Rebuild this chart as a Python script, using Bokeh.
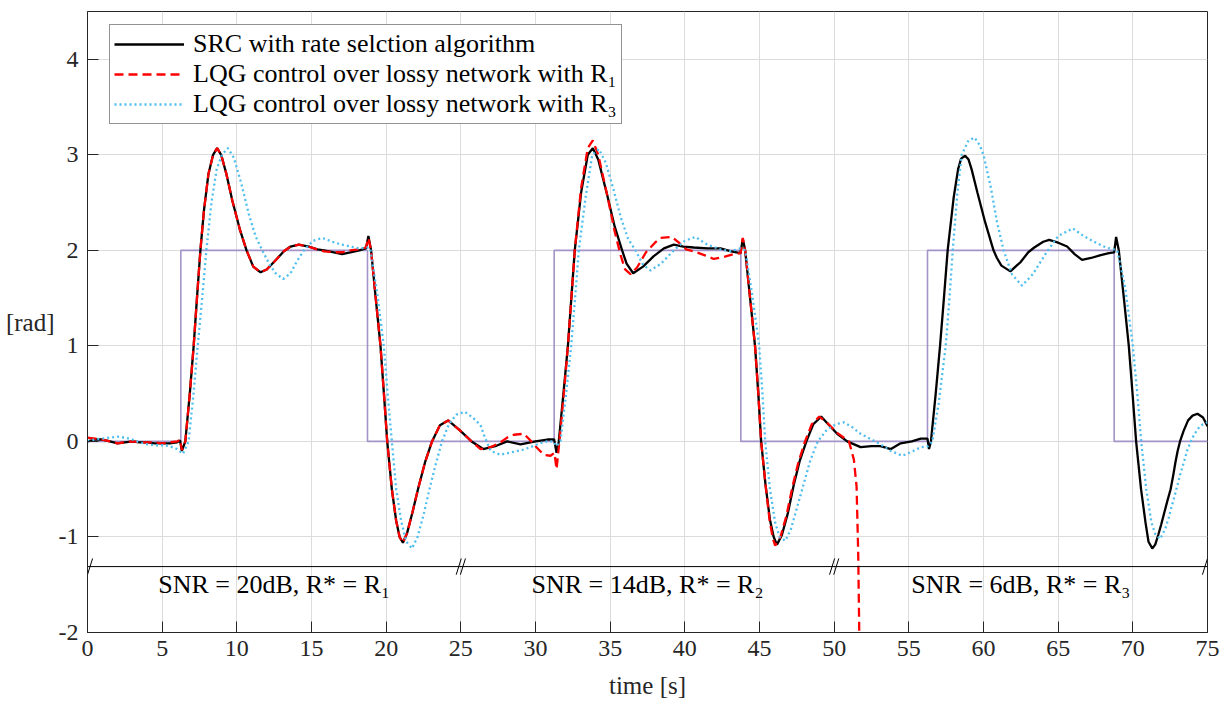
from bokeh.plotting import figure
from bokeh.models import (FixedTicker, Legend, LegendItem, Label, ColumnDataSource)
from bokeh.core.properties import value
from bokeh.embed import file_html
from bokeh.resources import INLINE

# ---------------- data ----------------
# reference signal (step)
ref_t = [0, 6.25, 18.75, 31.25, 43.75, 56.25, 68.75, 75]
ref_level = [0, 2, 0, 2, 0, 2, 0, 0]

# SRC with rate selection algorithm (black)
src_points = [
    (0, 0.0), (0.5, 0.02), (1.0, 0.02), (1.5, 0.0), (2.0, -0.02), (2.5, -0.01), (3.0, 0.0),
    (3.5, -0.01), (4.0, -0.01), (4.5, -0.02), (5.0, -0.02), (5.5, -0.02), (6.0, -0.01),
    (6.2, 0.01), (6.32, -0.1), (6.55, 0.0), (6.85, 0.5), (7.11, 1.0), (7.33, 1.5), (7.56, 2.0),
    (7.8, 2.42), (8.1, 2.8), (8.41, 3.0), (8.68, 3.07), (8.95, 3.0), (9.3, 2.8), (9.7, 2.52),
    (10.2, 2.22), (10.65, 2.0), (11.1, 1.83), (11.59, 1.77), (12.0, 1.8), (12.5, 1.88),
    (13.15, 1.99), (13.6, 2.04), (14.15, 2.06), (14.8, 2.04), (15.4, 2.01), (15.83, 2.0),
    (16.5, 1.98), (17.05, 1.96), (17.6, 1.98), (18.2, 2.0), (18.65, 2.02), (18.81, 2.15),
    (18.99, 2.0), (19.3, 1.5), (19.62, 1.0), (19.85, 0.5), (20.07, 0.0), (20.38, -0.5),
    (20.67, -0.83), (20.9, -1.0), (21.12, -1.06), (21.4, -0.96), (21.75, -0.75), (22.13, -0.5),
    (22.6, -0.22), (23.07, 0.0), (23.6, 0.17), (24.15, 0.22), (24.9, 0.12), (25.72, 0.0),
    (26.5, -0.08), (27.3, -0.05), (28.1, 0.0), (29.0, -0.03), (30.0, 0.0), (30.8, 0.02),
    (31.25, 0.02), (31.41, -0.12), (31.56, 0.0), (31.87, 0.5), (32.17, 1.0), (32.4, 1.5),
    (32.63, 2.0), (33.05, 2.6), (33.5, 3.0), (33.84, 3.07), (34.2, 2.95), (34.8, 2.58),
    (35.3, 2.25), (35.8, 2.0), (36.1, 1.86), (36.54, 1.76), (37.2, 1.83), (37.92, 1.94),
    (38.6, 2.02), (39.26, 2.06), (39.9, 2.04), (40.6, 2.03), (41.5, 2.02), (42.39, 2.02),
    (43.1, 1.99), (43.73, 1.97), (43.88, 2.12), (44.04, 2.0), (44.37, 1.5), (44.7, 1.0),
    (44.92, 0.5), (45.11, 0.0), (45.4, -0.45), (45.7, -0.82), (45.95, -1.0), (46.17, -1.08),
    (46.5, -0.98), (46.9, -0.75), (47.3, -0.45), (47.7, -0.2), (48.14, 0.0), (48.6, 0.18),
    (49.13, 0.26), (49.6, 0.18), (50.2, 0.08), (50.87, 0.0), (51.77, -0.06), (52.5, -0.05),
    (53.1, -0.05), (53.8, -0.08), (54.45, -0.02), (55.2, 0.0), (55.8, 0.03), (56.25, 0.03),
    (56.35, -0.08), (56.48, 0.0), (56.8, 0.5), (57.09, 1.0), (57.35, 1.5), (57.6, 2.0),
    (58.0, 2.55), (58.3, 2.85), (58.5, 2.96), (58.77, 2.99), (59.0, 2.95), (59.2, 2.85),
    (59.6, 2.6), (60.1, 2.3), (60.67, 2.0), (60.9, 1.92), (61.2, 1.84), (61.8, 1.78),
    (62.5, 1.88), (63.0, 1.98), (63.4, 2.03), (64.0, 2.09), (64.4, 2.11), (65.0, 2.08),
    (65.6, 2.04), (66.1, 1.96), (66.6, 1.9), (67.2, 1.92), (67.85, 1.95), (68.4, 1.97),
    (68.75, 1.98), (68.88, 2.14), (69.06, 2.0), (69.4, 1.5), (69.73, 1.0), (69.98, 0.5),
    (70.22, 0.0), (70.55, -0.5), (70.85, -0.85), (71.05, -1.05), (71.3, -1.12), (71.5, -1.08),
    (71.7, -0.98), (71.9, -0.87), (72.1, -0.75), (72.3, -0.63), (72.53, -0.5), (72.7, -0.36),
    (72.85, -0.22), (73.0, -0.1), (73.16, 0.0), (73.4, 0.11), (73.7, 0.22), (74.0, 0.27),
    (74.33, 0.29), (74.7, 0.25), (75.0, 0.16),
]

# LQG control over lossy network with R1 (red dashed)
lqg_r1_points = [
    (0, 0.04), (0.5, 0.03), (1.0, 0.02), (1.5, 0.0), (2.0, -0.02), (2.5, -0.01), (3.0, 0.0),
    (3.5, -0.01), (4.0, -0.01), (4.5, -0.01), (5.0, -0.02), (5.5, -0.01), (6.0, 0.0),
    (6.2, 0.02), (6.32, -0.09), (6.55, 0.0), (6.85, 0.5), (7.11, 1.0), (7.33, 1.5), (7.56, 2.0),
    (7.8, 2.42), (8.1, 2.8), (8.41, 3.0), (8.68, 3.07), (8.95, 3.0), (9.3, 2.8), (9.7, 2.52),
    (10.2, 2.22), (10.65, 2.0), (11.1, 1.83), (11.59, 1.77), (12.0, 1.8), (12.5, 1.88),
    (13.15, 1.99), (13.6, 2.04), (14.15, 2.06), (14.8, 2.04), (15.4, 2.01), (15.83, 1.99),
    (16.5, 1.98), (17.05, 1.98), (17.6, 2.0), (18.2, 2.01), (18.65, 2.03), (18.81, 2.13),
    (18.99, 2.0), (19.3, 1.5), (19.62, 1.0), (19.85, 0.5), (20.07, 0.0), (20.38, -0.5),
    (20.67, -0.83), (20.9, -1.0), (21.12, -1.06), (21.4, -0.96), (21.75, -0.75), (22.13, -0.5),
    (22.6, -0.22), (23.07, 0.0), (23.6, 0.17), (24.15, 0.22), (24.9, 0.12), (25.72, 0.0),
    (26.32, -0.08), (27.0, -0.06), (27.66, -0.01), (28.1, 0.04), (28.55, 0.07), (29.22, 0.08),
    (29.6, 0.02), (30.0, -0.05), (30.56, -0.14), (31.0, -0.15), (31.27, -0.12), (31.41, -0.29),
    (31.6, 0.0), (31.9, 0.5), (32.17, 1.0), (32.4, 1.5), (32.63, 2.0), (33.05, 2.65),
    (33.5, 3.07), (33.84, 3.15), (34.2, 3.0), (34.8, 2.58), (35.3, 2.2), (35.7, 1.95),
    (36.0, 1.8), (36.36, 1.75), (36.8, 1.82), (37.4, 1.98), (38.0, 2.08), (38.37, 2.13),
    (39.15, 2.14), (39.6, 2.08), (40.1, 2.01), (40.6, 1.99), (41.3, 1.95), (41.94, 1.91),
    (42.6, 1.93), (43.28, 1.96), (43.73, 1.97), (43.88, 2.13), (44.04, 2.0), (44.37, 1.5),
    (44.7, 1.0), (44.92, 0.5), (45.11, 0.0), (45.4, -0.45), (45.68, -0.83), (45.9, -1.02),
    (46.05, -1.09), (46.4, -1.0), (46.8, -0.78), (47.2, -0.48), (47.6, -0.22), (48.05, 0.0),
    (48.5, 0.18), (49.0, 0.26), (49.5, 0.2), (50.2, 0.09), (50.99, 0.0), (51.32, -0.19),
    (51.5, -0.47), (51.61, -1.17), (51.68, -2.0), (51.75, -3.0),
]

# LQG control over lossy network with R3 (blue dotted)
lqg_r3_points = [
    (0, 0.0), (0.5, 0.02), (1.0, 0.03), (1.5, 0.04), (2.0, 0.05), (2.5, 0.04), (3.0, 0.02),
    (3.5, -0.01), (4.0, -0.03), (4.5, -0.04), (5.0, -0.04), (5.5, -0.05), (6.0, -0.08),
    (6.39, -0.13), (6.77, 0.0), (7.1, 0.5), (7.38, 1.0), (7.68, 1.5), (7.96, 2.0), (8.3, 2.5),
    (8.65, 2.85), (9.01, 3.0), (9.4, 3.07), (9.8, 2.97), (10.3, 2.7), (10.8, 2.38),
    (11.25, 2.15), (11.7, 2.0), (12.2, 1.85), (12.6, 1.76), (13.1, 1.7), (13.6, 1.76),
    (14.0, 1.88), (14.49, 2.0), (15.1, 2.1), (15.72, 2.13), (16.4, 2.09), (17.0, 2.06),
    (17.6, 2.04), (18.2, 2.02), (18.84, 2.03), (18.95, 2.0), (19.4, 1.55), (19.84, 1.0),
    (20.1, 0.5), (20.38, 0.0), (20.67, -0.5), (21.0, -0.83), (21.35, -1.05), (21.73, -1.12),
    (22.1, -1.0), (22.5, -0.77), (22.9, -0.5), (23.3, -0.25), (23.74, 0.0), (24.2, 0.18),
    (24.7, 0.28), (25.27, 0.31), (25.8, 0.25), (26.32, 0.17), (26.54, 0.07), (27.0, -0.1),
    (27.66, -0.14), (28.5, -0.11), (29.1, -0.09), (29.67, -0.06), (30.3, -0.02), (30.78, 0.0),
    (31.2, 0.0), (31.4, -0.05), (31.67, 0.0), (32.05, 0.5), (32.39, 1.0), (32.65, 1.5),
    (32.9, 2.0), (33.35, 2.55), (33.8, 3.0), (34.24, 3.06), (34.7, 2.92), (35.2, 2.65),
    (35.7, 2.35), (36.2, 2.12), (36.7, 2.0), (37.2, 1.85), (37.7, 1.79), (38.4, 1.86),
    (39.26, 2.0), (40.0, 2.1), (40.71, 2.14), (41.5, 2.06), (42.39, 2.01), (43.1, 1.99),
    (43.7, 2.02), (44.04, 2.0), (44.5, 1.55), (44.98, 1.0), (45.2, 0.5), (45.38, 0.0),
    (45.7, -0.5), (46.05, -0.85), (46.35, -1.0), (46.73, -1.04), (47.1, -0.92), (47.5, -0.7),
    (47.95, -0.45), (48.4, -0.2), (48.9, 0.0), (49.5, 0.12), (50.1, 0.18), (50.65, 0.2),
    (51.2, 0.15), (51.77, 0.08), (52.5, 0.02), (53.1, -0.03), (53.8, -0.1), (54.56, -0.15),
    (55.3, -0.1), (55.8, -0.06), (56.3, -0.05), (56.57, 0.0), (57.0, 0.4), (57.47, 1.0),
    (57.72, 1.5), (57.94, 2.0), (58.25, 2.6), (58.54, 3.0), (59.0, 3.15), (59.4, 3.18),
    (59.75, 3.1), (60.0, 3.0), (60.5, 2.65), (60.9, 2.3), (61.35, 2.0), (61.9, 1.75),
    (62.58, 1.63), (63.3, 1.75), (64.27, 1.99), (65.0, 2.15), (65.98, 2.23), (66.7, 2.15),
    (67.4, 2.09), (68.2, 2.03), (68.96, 2.0), (69.5, 1.6), (70.0, 1.0), (70.3, 0.5),
    (70.56, 0.0), (70.9, -0.5), (71.25, -0.85), (71.5, -0.97), (71.82, -1.02), (72.0, -0.97),
    (72.2, -0.9), (72.4, -0.8), (72.6, -0.68), (72.8, -0.57), (73.0, -0.45), (73.2, -0.33),
    (73.45, -0.2), (73.65, -0.09), (73.88, 0.0), (74.1, 0.07), (74.4, 0.14), (74.7, 0.18),
    (75.0, 0.2),
]

# tick labels
x_ticks = [0, 5, 10, 15, 20, 25, 30, 35, 40, 45, 50, 55, 60, 65, 70, 75]
x_tick_labels = ["0", "5", "10", "15", "20", "25", "30", "35", "40", "45", "50",
                 "55", "60", "65", "70", "75"]
y_ticks = [-2, -1, 0, 1, 2, 3, 4]
y_tick_labels = ["-2", "-1", "0", "1", "2", "3", "4"]

# scenario annotation
seg_bounds = [0, 25, 50, 75]
annot_level = -1.31
annot_text_level = -1.5
snr_labels = ["SNR = 20dB, R* = R\u2081", "SNR = 14dB, R* = R\u2082", "SNR = 6dB, R* = R\u2083"]

legend_labels = ["SRC with rate selction algorithm",
                 "LQG control over lossy network with R\u2081",
                 "LQG control over lossy network with R\u2083"]

# ---------------- figure ----------------
FONT = "Liberation Serif"
TXT = "#262626"

p = figure(width=1222, height=701, x_range=(0, 75), y_range=(-2, 4.5),
           output_backend="svg", toolbar_location=None,
           min_border_left=87, min_border_right=15, min_border_top=11, min_border_bottom=69)
p.background_fill_color = "white"
p.border_fill_color = "white"
p.outline_line_color = TXT
p.outline_line_width = 1

for ax, ticks, labels in ((p.xaxis[0], x_ticks, x_tick_labels), (p.yaxis[0], y_ticks, y_tick_labels)):
    ax.ticker = FixedTicker(ticks=ticks)
    ax.major_label_overrides = {float(t): l for t, l in zip(ticks, labels)}
    ax.major_tick_in = 11
    ax.major_tick_out = 0
    ax.minor_tick_line_color = None
    ax.axis_line_color = TXT
    ax.major_tick_line_color = TXT
    ax.major_label_text_font = FONT
    ax.major_label_text_font_size = "24px"
    ax.major_label_text_color = TXT
    ax.axis_label_text_font = FONT
    ax.axis_label_text_font_size = "25px"
    ax.axis_label_text_font_style = "normal"
    ax.axis_label_text_color = TXT

p.xaxis.major_label_standoff = 8
p.yaxis.major_label_standoff = 9
p.xaxis.axis_label = "time [s]"
p.xaxis.axis_label_standoff = 13

rad_on_axis = True
try:
    p.yaxis.axis_label = "[rad]"
    p.yaxis.axis_label_orientation = "horizontal"
    p.yaxis.axis_label_standoff = 1
except Exception:
    rad_on_axis = False
    p.yaxis.axis_label = None

p.xgrid.grid_line_color = "#dcdcdc"
p.ygrid.grid_line_color = "#dcdcdc"
p.xgrid.grid_line_width = 1
p.ygrid.grid_line_width = 1

# reference step
p.step(ref_t, ref_level, mode="after", line_color="#A493C8", line_width=1.6)

src_src = ColumnDataSource(dict(t=[a for a, b in src_points], y=[b for a, b in src_points]))
r1_src = ColumnDataSource(dict(t=[a for a, b in lqg_r1_points], y=[b for a, b in lqg_r1_points]))
r3_src = ColumnDataSource(dict(t=[a for a, b in lqg_r3_points], y=[b for a, b in lqg_r3_points]))

r_src = p.line("t", "y", source=src_src, line_color="black", line_width=2.3)
r_r1 = p.line("t", "y", source=r1_src, line_color="#FF0000", line_width=2.3, line_dash="9 5")
r_r3 = p.line("t", "y", source=r3_src, line_color="#4DBEEE", line_width=2.3, line_dash="2 3")

# scenario bar with break marks
p.line([seg_bounds[0], seg_bounds[-1]], [annot_level, annot_level], line_color="black", line_width=1)
inner = seg_bounds[1:-1]
sx = [b - 0.14 for b in inner] + [b + 0.14 for b in inner] + [seg_bounds[0] + 0.17, seg_bounds[-1] - 0.17]
p.segment(x0=[s - 0.17 for s in sx], y0=[annot_level - 0.085] * len(sx),
          x1=[s + 0.17 for s in sx], y1=[annot_level + 0.085] * len(sx),
          line_color="black", line_width=1)
mids = [(a + b) / 2 for a, b in zip(seg_bounds[:-1], seg_bounds[1:])]
p.text(x=mids, y=[annot_text_level] * len(mids), text=snr_labels,
       text_font=value(FONT), text_font_size="26px", text_color="black",
       text_align="center", text_baseline="middle")

if not rad_on_axis:
    p.add_layout(Label(x=35, y=1.41, x_units="screen", y_units="data", text="[rad]",
                       text_font=FONT, text_font_size="25px", text_color=TXT,
                       text_align="center", text_baseline="middle"))

legend = Legend(items=[LegendItem(label=legend_labels[0], renderers=[r_src]),
                       LegendItem(label=legend_labels[1], renderers=[r_r1]),
                       LegendItem(label=legend_labels[2], renderers=[r_r3])],
                location=(22, 508))
legend.label_text_font = FONT
legend.label_text_font_size = "26px"
legend.label_text_color = "black"
legend.border_line_color = TXT
legend.border_line_width = 1
legend.background_fill_alpha = 1
legend.padding = 4
legend.spacing = 0
legend.glyph_width = 70
legend.glyph_height = 28
legend.label_height = 28
legend.label_standoff = 9
legend.margin = 0
p.add_layout(legend, "center")

open("out.html", "w").write(file_html(p, INLINE))
